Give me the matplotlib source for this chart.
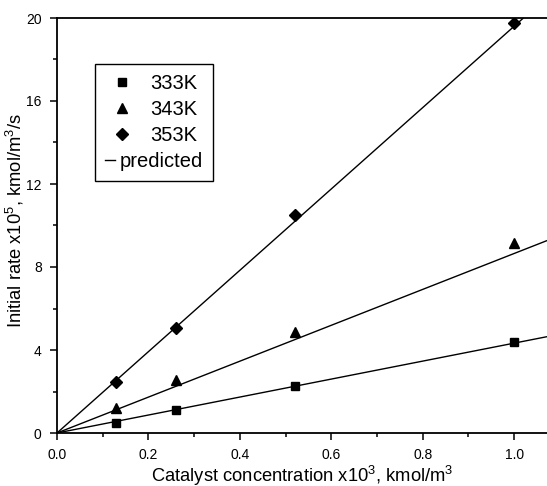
import numpy as np
import matplotlib
matplotlib.use("Agg")
import matplotlib.pyplot as plt
from matplotlib.ticker import MultipleLocator, FormatStrFormatter
from matplotlib.legend_handler import HandlerLine2D

plt.rcParams["font.family"] = ["Liberation Sans", "DejaVu Sans"]
plt.rcParams["mathtext.fontset"] = "custom"
plt.rcParams["mathtext.rm"] = "Liberation Sans"

# catalyst concentration x10^3, kmol/m3
conc = [0.13, 0.26, 0.52, 1.0]
# measured initial rate x10^5, kmol/m3/s
rate_333 = [0.50, 1.11, 2.27, 4.37]
rate_343 = [1.19, 2.55, 4.85, 9.17]
rate_353 = [2.47, 5.05, 10.5, 19.76]
# predicted lines (rate = k * conc)
slope_333 = 4.33
slope_343 = 8.65
slope_353 = 19.6
x_line = [0.0, 1.1]

SHORT = 0.3


class ShortLine(HandlerLine2D):
    # the "predicted" entry uses a shorter dash than the marker column
    def create_artists(self, legend, orig, xdescent, ydescent, width, height, fontsize, trans):
        return super().create_artists(legend, orig, xdescent, ydescent, width * SHORT,
                                      height, fontsize, trans)


fig = plt.figure(figsize=(5.47, 4.86), dpi=100)
ax = fig.add_axes([57 / 547, 53 / 486, 490 / 547, 415 / 486])

for k in (slope_333, slope_343, slope_353):
    ax.plot(x_line, [k * v for v in x_line], color="black", lw=1.0)

ax.plot(conc, rate_333, ls="none", marker="s", ms=6, color="black", label="333K")
ax.plot(conc, rate_343, ls="none", marker="^", ms=7, color="black", label="343K")
ax.plot(conc, rate_353, ls="none", marker="D", ms=6, color="black", label="353K")
pred, = ax.plot([], [], color="black", lw=1.0, label="predicted")

ax.set_xlim(0, 1.072)
ax.set_ylim(0, 20)
ax.spines["right"].set_visible(False)
for s in ("left", "bottom", "top"):
    ax.spines[s].set_linewidth(1.3)
ax.xaxis.set_major_locator(MultipleLocator(0.2))
ax.xaxis.set_minor_locator(MultipleLocator(0.1))
ax.xaxis.set_major_formatter(FormatStrFormatter("%.1f"))
ax.yaxis.set_major_locator(MultipleLocator(4))
ax.yaxis.set_minor_locator(MultipleLocator(2))
ax.tick_params(which="both", direction="out", top=False, right=False, width=1.1)
ax.tick_params(which="major", length=5, labelsize=10)
ax.tick_params(which="minor", length=3)
ax.tick_params(axis="x", which="major", pad=6)
ax.tick_params(axis="y", which="major", pad=6)

ax.set_xlabel(r"Catalyst concentration x10$^{\mathregular{3}}$, kmol/m$^{\mathregular{3}}$",
              fontsize=13.2, labelpad=1)
ax.set_ylabel(r"Initial rate x10$^{\mathregular{5}}$, kmol/m$^{\mathregular{3}}$/s",
              fontsize=13.2)
ax.yaxis.set_label_coords(-0.064, 0.513)

leg = ax.legend(loc="upper left", bbox_to_anchor=(0.0776, 0.889), borderaxespad=0,
                fontsize=14.5, fancybox=False, edgecolor="black", framealpha=1,
                handlelength=1.7, handletextpad=0.55, labelspacing=0.34, borderpad=0.5,
                handler_map={pred: ShortLine()})
leg.get_frame().set_linewidth(1.0)
# shrink the handle slot of the "predicted" row so its text starts further left
row = leg._legend_handle_box.get_children()[0].get_children()[3]
row.get_children()[0].width *= SHORT
row.sep = 3.0

fig.savefig("out.png", dpi=100)
